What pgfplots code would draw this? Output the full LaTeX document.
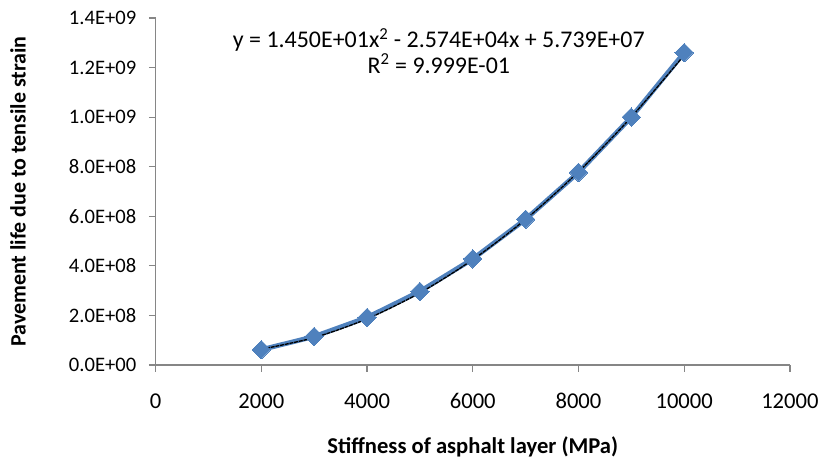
\documentclass[border=0pt]{standalone}
\usepackage{pgfplots}
\pgfplotsset{compat=1.18}
\usepackage{fontspec}
\setmainfont{Carlito}
\definecolor{xlblue}{HTML}{4F81BD}
\definecolor{axgray}{HTML}{868686}
\begin{document}
\begin{tikzpicture}
\begin{axis}[
  at={(0,0)}, anchor=south west,
  scale only axis, width=477pt, height=261pt,
  xmin=0, xmax=12000, ymin=0, ymax=1.4e9,
  axis lines*=left,
  axis line style={axgray, line width=0.9pt, -},
  every tick/.style={axgray, line width=0.9pt},
  tick align=outside, major tick length=5pt,
  xtick={0,2000,4000,6000,8000,10000,12000},
  xticklabels={0,2000,4000,6000,8000,10000,12000},
  ytick={0,2e8,4e8,6e8,8e8,1e9,1.2e9,1.4e9},
  yticklabels={0.0E+00,2.0E+08,4.0E+08,6.0E+08,8.0E+08,1.0E+09,1.2E+09,1.4E+09},
  scaled y ticks=false, scaled x ticks=false,
  xticklabel style={font=\fontsize{17pt}{19pt}\selectfont, black, anchor=center, yshift=-22pt},
  yticklabel style={font=\fontsize{15.5pt}{17pt}\selectfont, black, anchor=east, xshift=-6pt},
  xlabel={Stiffness of asphalt layer (MPa)},
  ylabel={Pavement life due to tensile strain},
  every axis x label/.append style={at={(axis description cs:0.5,-0.2356)}, anchor=center, font=\fontsize{17pt}{19pt}\selectfont\bfseries},
  every axis y label/.append style={at={(axis description cs:-0.217,0.5)}, anchor=center, font=\fontsize{16.5pt}{19pt}\selectfont\bfseries},
  clip=false,
]
\addplot[color=xlblue, line width=3.6pt, mark=square*, mark size=4.9pt,
  mark options={fill=xlblue, draw=xlblue, line width=0pt, rotate=45}]
  coordinates {(2000,6.2e7) (3000,1.15e8) (4000,1.92e8) (5000,2.97e8) (6000,4.28e8)
               (7000,5.88e8) (8000,7.77e8) (9000,1.0e9) (10000,1.26e9)};
\addplot[black, line width=1pt, smooth, no marks, dash pattern=on 3pt off 0.6pt]
  coordinates {(2000,6.39e7) (3000,1.107e8) (4000,1.864e8) (5000,2.912e8) (6000,4.25e8)
               (7000,5.877e8) (8000,7.795e8) (9000,1.0002e9) (10000,1.25e9)};
\node[font=\fontsize{18pt}{19pt}\selectfont, anchor=center] at (axis description cs:0.4465,0.937)
  {y = 1.450E+01x\textsuperscript{2} - 2.574E+04x + 5.739E+07};
\node[font=\fontsize{18pt}{19pt}\selectfont, anchor=center] at (axis description cs:0.4465,0.868)
  {R\textsuperscript{2} = 9.999E-01};
\end{axis}
\path (-117pt,-73.5pt) rectangle (500.25pt,274.5pt);
\end{tikzpicture}
\end{document}
